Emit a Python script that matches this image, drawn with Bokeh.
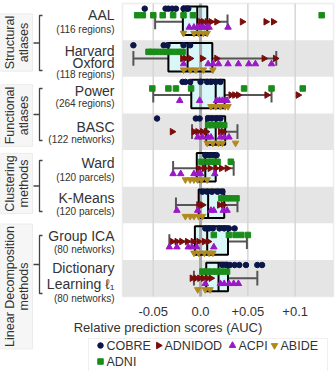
import numpy as np
from bokeh.plotting import figure
from bokeh.models import (Range1d, FixedTicker, Label, LinearAxis,
                          BoxAnnotation, CustomJSTickFormatter)
from bokeh.embed import file_html
from bokeh.resources import INLINE

# ---------------- data ----------------
rows = ["AAL", "Harvard Oxford", "Power", "BASC", "Ward", "K-Means",
        "Group ICA", "Dictionary Learning"]

COBRE = [
    [-0.059, -0.037, -0.034, -0.030, -0.026, -0.018, -0.015, -0.013],
    [-0.071, -0.039, -0.035, -0.018, -0.011],
    [-0.019, -0.016, -0.011, 0.000, 0.007, 0.011, 0.016, 0.021],
    [-0.046, -0.005, -0.001, 0.008, 0.012, 0.017, 0.021],
    [0.005, 0.009, 0.013, 0.017],
    [0.002, 0.007, 0.012, 0.018, 0.023],
    [0.005, 0.009, 0.013, 0.020, 0.025, 0.030, 0.036],
    [0.023, 0.027, 0.031, 0.036, 0.041, 0.048, 0.060, 0.065],
]
ADNI = [
    [-0.067, -0.061, -0.050, -0.040, -0.029, -0.018, -0.008, 0.128],
    [-0.055, -0.051, -0.046, -0.040, -0.035, -0.030, -0.024, -0.019],
    [-0.051, -0.034, -0.026, -0.010, 0.046, 0.075, 0.108],
    [0.008, 0.012, 0.017, 0.021, 0.025],
    [0.001, 0.008, 0.013, 0.018, 0.032],
    [0.022, 0.027, 0.032, 0.038],
    [0.014, 0.030, 0.037, 0.043, 0.050],
    [0.002, 0.007, 0.012, 0.017, 0.022, 0.028],
]
ADNIDOD = [
    [0.000, 0.003, 0.007, 0.011, 0.017, 0.044, 0.069, 0.077],
    [-0.019, -0.016, -0.011, 0.002, 0.017, 0.067, 0.079],
    [0.032, 0.036, 0.040, 0.070, 0.103],
    [-0.030, -0.007, -0.003, 0.002, 0.006, 0.021, 0.024],
    [-0.002, 0.004, 0.010, 0.016, 0.022, 0.028],
    [-0.002, 0.002, 0.020, 0.024],
    [-0.030, -0.025, -0.020, -0.014, -0.008, -0.002, 0.004, 0.008],
    [-0.009, -0.005, -0.001, 0.003, 0.007, 0.011],
]
ACPI = [
    [-0.012, -0.007, -0.003, 0.000, 0.003, 0.007, 0.009, 0.029],
    [-0.018, 0.008, 0.013, 0.019, 0.029, 0.040, 0.051, 0.058, 0.075],
    [-0.022, -0.001, 0.017, 0.020, 0.023, 0.026, 0.028],
    [-0.003, 0.002, 0.008, 0.011, 0.021, 0.025, 0.030],
    [-0.029, -0.021, -0.007, -0.003, 0.000, 0.015],
    [-0.025, -0.003, 0.011, 0.014, 0.024, 0.028],
    [-0.033, -0.025, -0.013, -0.009, -0.004, 0.014],
    [0.005, 0.021, 0.025, 0.030, 0.035, 0.040],
]
ABIDE = [
    [-0.018, -0.007, -0.002, 0.003, 0.007],
    [-0.018, -0.011, -0.005, 0.003, 0.013],
    [0.011, 0.016, 0.021, 0.026, 0.029],
    [0.007, 0.013, 0.019, 0.023, 0.037],
    [-0.016, -0.011, -0.007, -0.003, 0.001, 0.007],
    [-0.016, -0.011, -0.007, -0.002, 0.002],
    [-0.007, -0.002, 0.004, 0.009, 0.013],
    [-0.003, 0.005, 0.010],
]

# box statistics
q1 = [-0.0187, -0.034, -0.0098, 0.006, -0.004, -0.002, -0.006, 0.006]
med = [-0.0035, -0.0137, 0.016, 0.016, 0.005, 0.008, 0.007, 0.019]
q3 = [0.0071, 0.0124, 0.0254, 0.026, 0.016, 0.025, 0.029, 0.029]
wlo = [-0.048, -0.071, -0.050, -0.009, -0.029, -0.026, -0.033, -0.007]
whi = [0.0285, 0.080, 0.075, 0.039, 0.035, 0.039, 0.049, 0.060]

ticks = [-0.05, 0.0, 0.05, 0.1]

# ---------------- geometry ----------------
W, H = 335, 371
X0, X1 = -0.0825, 0.1405          # visible value range of the plot box
FL, FR, FT, FB = 122, 333, 3, 296  # plot box in pixels
NR = len(rows)
sx = (X1 - X0) / (FR - FL)
sy = NR / (FB - FT)


def px2x(px):
    return X0 + (px - FL) * sx


def py2y(py):
    return (py - FT) * sy


FONT = "Liberation Sans"
TXT = "#333333"

p = figure(width=W, height=H, output_backend="svg", toolbar_location=None,
           x_range=Range1d(px2x(0), px2x(W)),
           y_range=Range1d(py2y(H), py2y(0)),
           min_border=0, x_axis_location=None, y_axis_location=None)
p.grid.visible = False
p.outline_line_color = None
p.background_fill_color = "white"
p.border_fill_color = "white"

# shaded rows
shade = [i for i in range(NR) if i % 2 == 1]
p.quad(left=X0, right=X1, top=shade, bottom=[i + 1 for i in shade],
       fill_color="#e5e5e5", line_color=None)
# grid lines at ticks
p.segment(x0=ticks, x1=ticks, y0=0, y1=NR, line_color="#d6d6d6",
          line_width=1.5)
# plot box outline
p.add_layout(BoxAnnotation(left=X0, right=X1, top=0, bottom=NR,
                           fill_alpha=0, line_color="#c4c4c4",
                           line_width=1.5, level="underlay"))

ax = LinearAxis(fixed_location=NR, ticker=FixedTicker(ticks=ticks),
                formatter=CustomJSTickFormatter(code="""
if (Math.abs(tick) < 1e-9) return "0.0";
const s = (Math.round(tick*100)/100).toString();
return tick > 0 ? "+" + s : s;
"""))
ax.axis_line_color = None
ax.major_tick_line_color = None
ax.minor_tick_line_color = None
ax.major_label_text_font = FONT
ax.major_label_text_font_size = "13px"
ax.major_label_text_color = TXT
ax.major_label_standoff = 4
ax.axis_label = "Relative prediction scores (AUC)"
ax.axis_label_text_font = FONT
ax.axis_label_text_font_size = "13px"
ax.axis_label_text_font_style = "normal"
ax.axis_label_text_color = TXT
ax.axis_label_standoff = 1
p.add_layout(ax, "below")

yc = [i + 0.5 for i in range(NR)]
ybox = [i + 0.47 for i in range(NR)]

p.hbar(y=ybox, height=0.78, left=q1, right=q3, fill_color="#d9f7f9",
       line_color=None)
p.segment(x0=[0.0], x1=[0.0], y0=[0], y1=[NR], line_color="#a8a8a8",
          line_width=3)
wc = "#555555"
p.segment(x0=wlo, x1=q1, y0=yc, y1=yc, line_color=wc, line_width=2)
p.segment(x0=q3, x1=whi, y0=yc, y1=yc, line_color=wc, line_width=2)
p.segment(x0=wlo, x1=wlo, y0=[y - 0.2 for y in yc], y1=[y + 0.2 for y in yc],
          line_color=wc, line_width=2)
p.segment(x0=whi, x1=whi, y0=[y - 0.2 for y in yc], y1=[y + 0.2 for y in yc],
          line_color=wc, line_width=2)
p.hbar(y=ybox, height=0.78, left=q1, right=q3, fill_color=None,
       line_color="black", line_width=2)
p.segment(x0=med, x1=med, y0=[y - 0.39 for y in ybox],
          y1=[y + 0.39 for y in ybox], line_color="black", line_width=2)

series = [
    ("COBRE", COBRE, "circle", 0.0, "#0b1548", -0.36, 5.5),
    ("ADNI", ADNI, "square", 0.0, "#1a8c1a", -0.18, 5.5),
    ("ADNIDOD", ADNIDOD, "triangle", -np.pi / 2, "#7a0c0c", 0.0, 6.5),
    ("ACPI", ACPI, "triangle", 0.0, "#9a18c6", 0.15, 6.5),
    ("ABIDE", ABIDE, "inverted_triangle", 0.0, "#b08a1e", 0.31, 6.5),
]
for name, data, marker, ang, col, off, sz in series:
    xs, ys = [], []
    for i, vals in enumerate(data):
        xs += vals
        ys += [i + 0.5 + off] * len(vals)
    p.scatter(x=xs, y=ys, marker=marker, angle=ang, size=sz,
              fill_color=col, line_color=col)

# ---------------- legend (drawn so the ADNIDOD marker keeps its rotation) ----
p.add_layout(BoxAnnotation(left=px2x(88), right=px2x(327), top=py2y(338),
                           bottom=py2y(373), fill_color="white",
                           line_color="#cccccc", line_width=1))
leg_pos = {"COBRE": (100, 345), "ADNIDOD": (158, 345), "ACPI": (232, 345),
           "ABIDE": (274, 345), "ADNI": (100, 361)}
for name, data, marker, ang, col, off, sz in series:
    gx, gy = leg_pos[name]
    p.scatter(x=[px2x(gx)], y=[py2y(gy)], marker=marker, angle=ang, size=sz,
              fill_color=col, line_color=col, level="overlay")
    p.add_layout(Label(x=px2x(gx + 6), y=py2y(gy), text=name,
                       text_align="left", text_baseline="middle",
                       text_font=FONT, text_font_size="12.5px",
                       text_color=TXT))

# ---------------- left labels ----------------
labels = [
    ("AAL", 14, 14), ("(116 regions)", 29, 10),
    ("Harvard", 50, 14), ("Oxford", 62, 14), ("(118 regions)", 74, 10),
    ("Power", 90, 14), ("(264 regions)", 103, 10),
    ("BASC", 126, 14), ("(122 networks)", 139, 10),
    ("Ward", 162, 14), ("(120 parcels)", 177, 10),
    ("K-Means", 197, 14), ("(120 parcels)", 211, 10),
    ("Group ICA", 235, 14), ("(80 networks)", 249, 10),
    ("Dictionary", 267, 14), ("Learning \u2113\u2081", 283, 14),
    ("(80 networks)", 298, 10),
]
for t, py, fs in labels:
    p.add_layout(Label(x=px2x(114), y=py2y(py), text=t, text_align="right",
                       text_baseline="middle", text_font=FONT,
                       text_font_size=f"{fs}px", text_color=TXT))

groups = [
    ("Structural\natlases", 42, 15, 70),
    ("Functional\natlases", 115, 88, 140),
    ("Clustering\nmethods", 183, 160, 211),
    ("Linear Decomposition\nmethods", 286, 235, 293),
]
bx, by = [], []
for t, pyc, ya, yb in groups:
    p.add_layout(Label(x=px2x(16), y=py2y(pyc), text=t, angle=np.pi / 2,
                       text_align="center", text_baseline="middle",
                       text_font=FONT, text_font_size="12.5px",
                       text_color=TXT, text_line_height=1.0,
                       background_fill_color="#f6f6f6",
                       border_line_color="#ececec", padding=2))
    mid = (ya + yb) / 2
    bx.append([px2x(v) for v in (42, 39, 39, 42)])
    by.append([py2y(v) for v in (ya, ya, yb, yb)])
    bx.append([px2x(33), px2x(39)])
    by.append([py2y(mid), py2y(mid)])
p.multi_line(xs=bx, ys=by, line_color="#444444", line_width=1.3)

open("out.html", "w").write(file_html(p, INLINE))
